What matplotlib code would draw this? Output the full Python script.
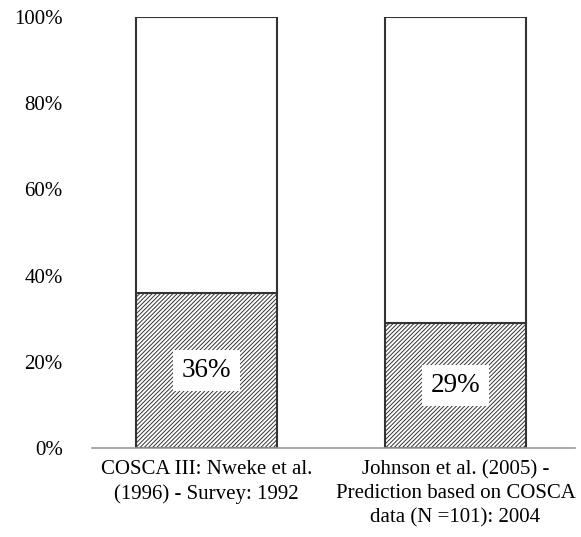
import matplotlib
matplotlib.use("Agg")
import matplotlib.pyplot as plt

categories = ["COSCA III: Nweke et al.\n(1996) - Survey: 1992",
              "Johnson et al. (2005) -\nPrediction based on COSCA\ndata (N =101): 2004"]
values = [36, 29]
labels = ["36%", "29%"]
yticks = [0, 20, 40, 60, 80, 100]

plt.rcParams['font.family'] = ['Liberation Serif', 'DejaVu Serif']
plt.rcParams['hatch.linewidth'] = 0.7
plt.rcParams['hatch.color'] = '#333333'

fig = plt.figure(figsize=(5.81, 5.37), dpi=100)
ax = fig.add_axes([92/581, 1-448/537, (575-92)/581, (448-17)/537])

x = list(range(len(categories)))
rest = [100 - v for v in values]
ax.bar(x, values, width=0.566, color='white', edgecolor='#333333', linewidth=1.5, hatch='////////')
ax.bar(x, rest, bottom=values, width=0.566, color='white', edgecolor='#333333', linewidth=1.5)
for xi, v, lab in zip(x, values, labels):
    ax.text(xi, v/2, lab, ha='center', va='center', fontsize=19.5,
            bbox=dict(facecolor='white', edgecolor='none', pad=6))

ax.set_xlim(-0.46, 1.48)
ax.set_ylim(0, 100)
ax.set_yticks(yticks)
ax.set_yticklabels([f"{t}%" for t in yticks], fontsize=15)
ax.set_xticks(x)
ax.set_xticklabels(categories, fontsize=15, linespacing=1.32)
ax.tick_params(axis='x', length=0, pad=9)
ax.tick_params(axis='y', length=0, pad=21)
for s in ['left', 'right', 'top']:
    ax.spines[s].set_visible(False)
ax.spines['bottom'].set_color('#999999')
ax.spines['bottom'].set_linewidth(1.2)

fig.savefig("out.png", dpi=100)
